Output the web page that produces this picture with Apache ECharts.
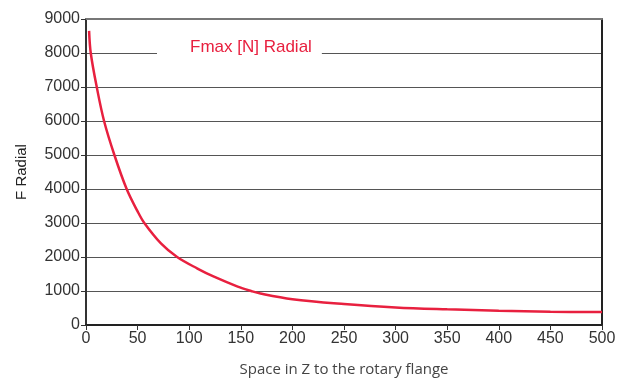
<!DOCTYPE html>
<html>
<head>
<meta charset="utf-8">
<script src="https://cdn.jsdelivr.net/npm/echarts@6/dist/echarts.min.js"></script>
<style>html,body{margin:0;padding:0;background:#fff}#c{width:622px;height:385px}</style>
</head>
<body>
<div id="c"></div>
<script>
var seriesName = 'Fmax [N] Radial';
var spaceZ = [3, 4.6, 10.4, 17.5, 27.5, 39.4, 50, 56.5, 72.6, 88.3, 108, 124, 147, 160, 169, 200, 250, 300, 350, 400, 450, 500];
var fRadial = [8650, 8000, 7000, 6000, 5000, 4000, 3340, 3000, 2400, 2000, 1660, 1420, 1130, 1000, 925, 760, 618, 515, 460, 420, 391, 380];
var xTicks = [0, 50, 100, 150, 200, 250, 300, 350, 400, 450, 500];
var yTicks = [0, 1000, 2000, 3000, 4000, 5000, 6000, 7000, 8000, 9000];

var data = spaceZ.map(function (x, i) { return [x, fRadial[i]]; });
var chart = echarts.init(document.getElementById('c'), null, {renderer: 'canvas'});
var lbl = {fontFamily: 'Liberation Sans', fontSize: 16, color: '#333', formatter: function (v) { return String(v); }};
chart.setOption({
  animation: false,
  backgroundColor: '#fff',
  grid: {left: 86, right: 20, top: 19, bottom: 60, containLabel: false},
  legend: {
    data: [seriesName], left: 157, top: 33, icon: 'rect', itemWidth: 0, itemHeight: 0, itemGap: 0,
    padding: [6, 10, 6, 28], backgroundColor: '#fff',
    textStyle: {fontFamily: 'Liberation Sans', fontSize: 17, color: '#e8203f'}
  },
  xAxis: [{
    type: 'value', min: xTicks[0], max: xTicks[xTicks.length - 1], interval: 50,
    name: 'Space in Z to the rotary flange', nameLocation: 'middle', nameGap: 37,
    nameTextStyle: {fontFamily: 'Open Sans', fontSize: 15, color: '#444'},
    axisLine: {show: true, lineStyle: {color: '#222', width: 2}},
    axisTick: {show: true, length: 5, lineStyle: {color: '#333'}},
    axisLabel: Object.assign({margin: 6}, lbl),
    splitLine: {show: false}
  }, {
    type: 'value', position: 'top', min: 0, max: 500,
    axisLine: {show: true, onZero: false, lineStyle: {color: '#777', width: 2}},
    axisTick: {show: false}, axisLabel: {show: false}, splitLine: {show: false}
  }],
  yAxis: [{
    type: 'value', min: yTicks[0], max: yTicks[yTicks.length - 1], interval: 1000,
    name: 'F Radial', nameLocation: 'middle', nameGap: 57, nameRotate: 90,
    nameTextStyle: {fontFamily: 'Liberation Sans', fontSize: 15, color: '#222'},
    axisLine: {show: true, lineStyle: {color: '#333', width: 2}},
    axisTick: {show: true, length: 5, lineStyle: {color: '#333'}},
    axisLabel: Object.assign({margin: 6}, lbl),
    splitLine: {show: true, lineStyle: {color: '#555', width: 1}}
  }, {
    type: 'value', position: 'right', min: 0, max: 9000,
    axisLine: {show: true, onZero: false, lineStyle: {color: '#222', width: 2}},
    axisTick: {show: false}, axisLabel: {show: false}, splitLine: {show: false}
  }],
  series: [{
    name: seriesName, type: 'line', data: data, smooth: 0.35, showSymbol: false,
    lineStyle: {color: '#e8203f', width: 2.5}, itemStyle: {color: '#e8203f'}
  }]
});
</script>
</body>
</html>
